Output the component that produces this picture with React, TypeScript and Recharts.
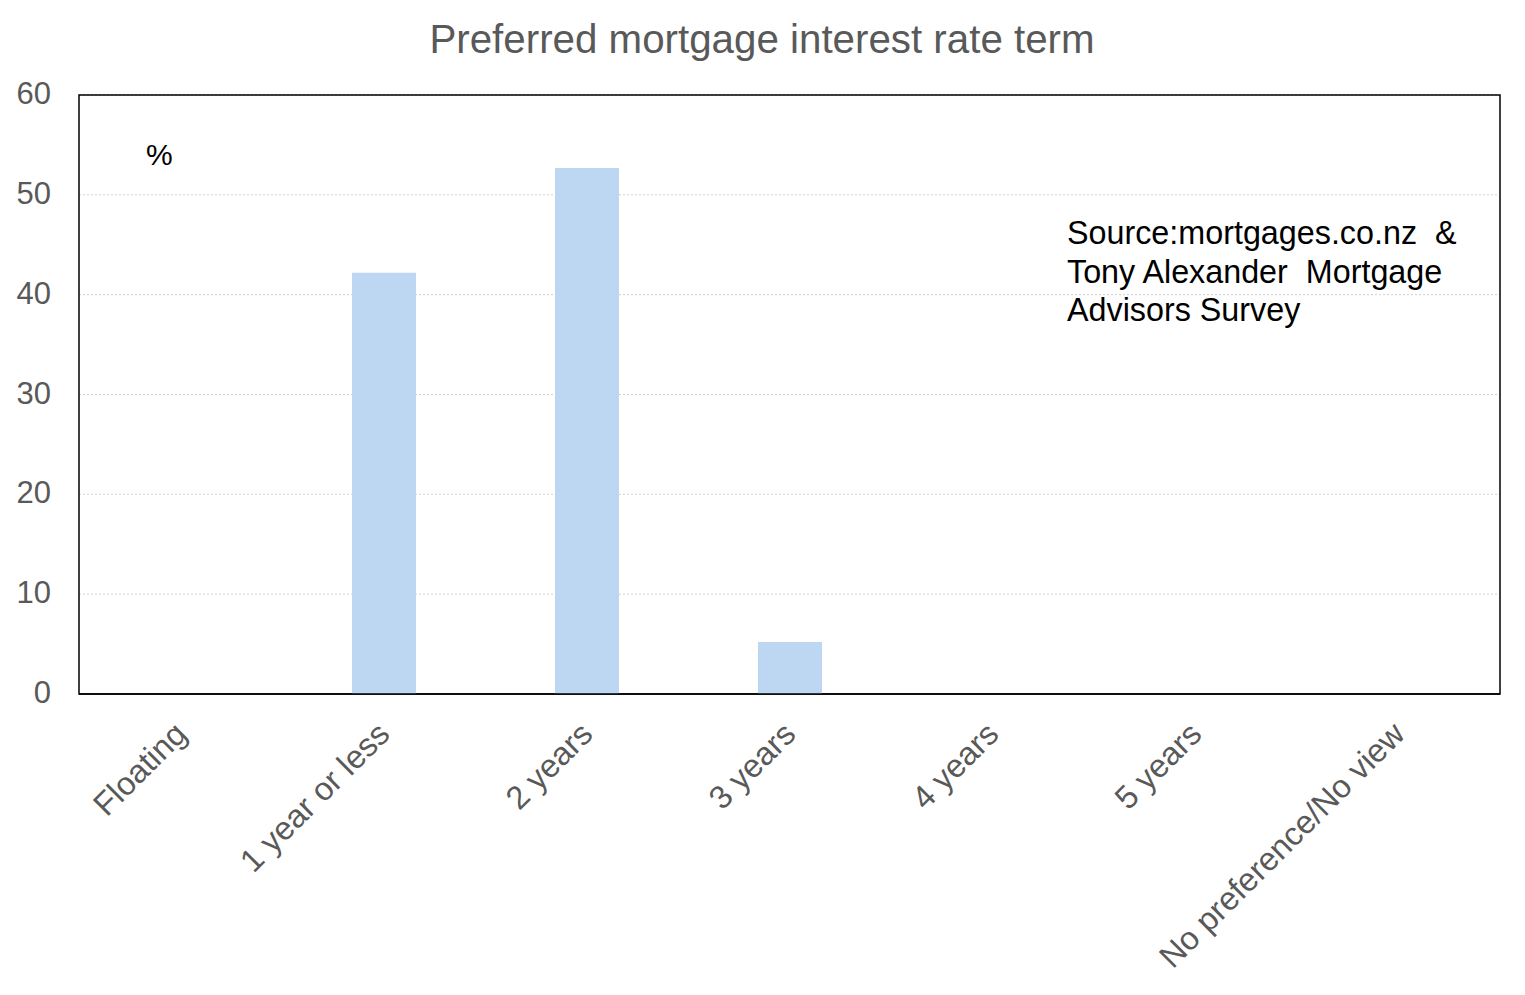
import { Bar, BarChart, CartesianGrid, Customized, XAxis, YAxis } from "recharts";

const categories = [
  "Floating",
  "1 year or less",
  "2 years",
  "3 years",
  "4 years",
  "5 years",
  "No preference/No view",
];
const shares = [0, 42.2, 52.7, 5.2, 0, 0, 0];
const yTicks = [0, 10, 20, 30, 40, 50, 60];

const data = categories.map((name, i) => ({ name, value: shares[i] }));

const GREY = "#595959";
const FONT = "'Liberation Sans', Arial, sans-serif";

function AngledTick({ x, y, payload }: any) {
  const tx = x + 8;
  const ty = y + 42;
  return (
    <text
      x={tx}
      y={ty}
      textAnchor="end"
      fill={GREY}
      fontSize={32.5}
      fontFamily={FONT}
      transform={`rotate(-45 ${tx} ${ty})`}
    >
      {payload.value}
    </text>
  );
}

function Overlay() {
  return (
    <g fontFamily={FONT}>
      <text x={762} y={53} textAnchor="middle" fontSize={40.3} fill={GREY}>
        Preferred mortgage interest rate term
      </text>
      <rect x={79} y={95} width={1421} height={599} fill="none" stroke="#000" strokeWidth={1.5} />
      <text x={146} y={165} fontSize={30} fill="#000">
        %
      </text>
      <text x={1067} y={244} fontSize={32.3} fill="#000" style={{ whiteSpace: "pre" }}>
        <tspan x={1067}>Source:mortgages.co.nz  &amp;</tspan>
        <tspan x={1067} dy={38.5}>Tony Alexander  Mortgage</tspan>
        <tspan x={1067} dy={38.5}>Advisors Survey</tspan>
      </text>
    </g>
  );
}

export default function App() {
  return (
    <div style={{ position: "absolute", left: 0, top: 0, background: "#fff" }}>
      <BarChart
        width={1525}
        height={995}
        data={data}
        margin={{ top: 95, right: 25, left: 0, bottom: 0 }}
      >
        <CartesianGrid vertical={false} stroke="#d0d0d0" strokeDasharray="2 2" />
        <XAxis
          dataKey="name"
          height={301}
          interval={0}
          tickLine={false}
          tickSize={0}
          tickMargin={0}
          axisLine={{ stroke: "#000", strokeWidth: 1.5 }}
          tick={<AngledTick />}
        />
        <YAxis
          width={79}
          domain={[0, 60]}
          ticks={yTicks}
          tickLine={false}
          tickSize={0}
          tickMargin={28}
          axisLine={false}
          tick={{ fill: GREY, fontSize: 31, fontFamily: FONT, dy: -2 }}
        />
        <Bar dataKey="value" fill="#bdd7f2" barSize={64} isAnimationActive={false} />
        <Customized component={<Overlay />} />
      </BarChart>
    </div>
  );
}
